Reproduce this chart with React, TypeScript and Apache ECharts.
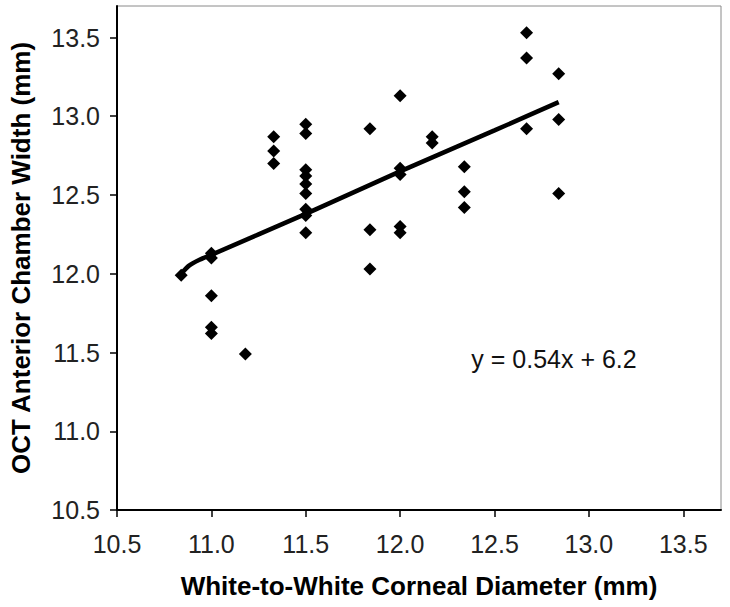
import React, { useEffect, useRef } from "react";
import * as echarts from "echarts";

// White-to-white corneal diameter (mm) vs OCT anterior chamber width (mm)
const wtwDiameter = [
  10.84,
  11.0, 11.0, 11.0, 11.0, 11.0,
  11.18,
  11.33, 11.33, 11.33,
  11.5, 11.5, 11.5, 11.5, 11.5, 11.5, 11.5, 11.5, 11.5,
  11.84, 11.84, 11.84,
  12.0, 12.0, 12.0, 12.0, 12.0,
  12.17, 12.17,
  12.34, 12.34, 12.34,
  12.67, 12.67, 12.67,
  12.84, 12.84, 12.84,
];
const acWidth = [
  11.99,
  12.13, 12.10, 11.86, 11.66, 11.62,
  11.49,
  12.87, 12.78, 12.70,
  12.95, 12.89, 12.66, 12.62, 12.57, 12.51, 12.41, 12.37, 12.26,
  12.92, 12.28, 12.03,
  13.13, 12.67, 12.63, 12.30, 12.26,
  12.87, 12.83,
  12.68, 12.52, 12.42,
  13.53, 13.37, 12.92,
  13.27, 12.98, 12.51,
];

// Trend line as drawn in the figure
const trendX = [10.84, 10.88, 10.94, 11.0, 11.5, 12.0, 12.5, 12.84];
const trendY = [12.0, 12.05, 12.09, 12.12, 12.38, 12.65, 12.91, 13.09];

const xTicks = [10.5, 11.0, 11.5, 12.0, 12.5, 13.0, 13.5];
const yTicks = [10.5, 11.0, 11.5, 12.0, 12.5, 13.0, 13.5];

const equationText = "y = 0.54x + 6.2";
const xTitle = "White-to-White Corneal Diameter (mm)";
const yTitle = "OCT Anterior Chamber Width (mm)";

export default function App() {
  const ref = useRef<HTMLDivElement>(null);

  useEffect(() => {
    if (!ref.current) return;
    const chart = echarts.init(ref.current, null, { renderer: "svg" });
    const font = "'Liberation Sans', Arial, Helvetica, sans-serif";
    const scatterData = wtwDiameter.map((x, i) => [x, acWidth[i]]);
    const trendData = trendX.map((x, i) => [x, trendY[i]]);

    chart.setOption({
      animation: false,
      backgroundColor: "#ffffff",
      grid: {
        left: 117,
        top: 6,
        right: 9,
        bottom: 97,
        show: true,
        borderColor: "#8a8a8a",
        borderWidth: 1,
        backgroundColor: "transparent",
      },
      xAxis: {
        type: "value",
        min: 10.5,
        max: 13.7,
        interval: 0.5,
        name: xTitle,
        nameLocation: "middle",
        nameGap: 63,
        nameTextStyle: {
          fontFamily: font,
          fontSize: 26,
          fontWeight: "bold",
          color: "#000",
        },
        axisLine: { show: true, onZero: false, lineStyle: { color: "#000", width: 2 } },
        axisTick: {
          show: true,
          length: 7,
          customValues: xTicks,
          lineStyle: { color: "#000", width: 1.5 },
        },
        axisLabel: {
          customValues: xTicks,
          margin: 21,
          fontFamily: font,
          fontSize: 25,
          color: "#222",
          formatter: (v: number) => v.toFixed(1),
        },
        splitLine: { show: false },
      },
      yAxis: {
        type: "value",
        min: 10.5,
        max: 13.7,
        interval: 0.5,
        name: yTitle,
        nameLocation: "middle",
        nameGap: 83,
        nameTextStyle: {
          fontFamily: font,
          fontSize: 26,
          fontWeight: "bold",
          color: "#000",
        },
        axisLine: { show: true, onZero: false, lineStyle: { color: "#000", width: 2 } },
        axisTick: {
          show: true,
          length: 7,
          customValues: yTicks,
          lineStyle: { color: "#000", width: 1.5 },
        },
        axisLabel: {
          customValues: yTicks,
          margin: 17,
          fontFamily: font,
          fontSize: 25,
          color: "#222",
          formatter: (v: number) => v.toFixed(1),
        },
        splitLine: { show: false },
      },
      series: [
        {
          type: "line",
          data: trendData,
          smooth: 0.2,
          showSymbol: false,
          symbol: "none",
          lineStyle: { color: "#000", width: 4.5 },
          z: 2,
        },
        {
          type: "scatter",
          data: scatterData,
          symbol: "diamond",
          symbolSize: 13,
          itemStyle: { color: "#000", opacity: 1 },
          z: 3,
        },
      ],
      graphic: [
        {
          type: "text",
          x: 554,
          y: 359,
          style: {
            text: equationText,
            fontFamily: font,
            fontSize: 25,
            fill: "#111",
            align: "center",
            verticalAlign: "middle",
          },
        },
      ],
    });

    return () => {
      chart.dispose();
    };
  }, []);

  return (
    <div
      ref={ref}
      style={{ position: "fixed", left: 0, top: 0, width: 730, height: 607 }}
    />
  );
}
